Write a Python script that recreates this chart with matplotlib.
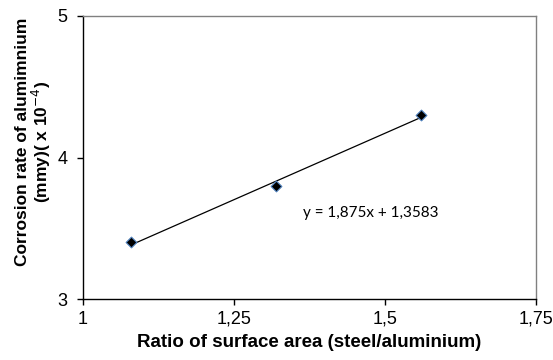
import matplotlib
matplotlib.use('Agg')
import matplotlib.pyplot as plt
import numpy as np
from matplotlib.ticker import FuncFormatter

# data
ratio = [1.08, 1.32, 1.56]
corrosion = [3.40, 3.80, 4.30]
x_ticks = [1, 1.25, 1.5, 1.75]
y_ticks = [3, 4, 5]

plt.rcParams['font.family'] = ['Liberation Sans', 'DejaVu Sans']

fig = plt.figure(figsize=(5.53, 3.6), dpi=100)
ax = fig.add_axes([0.150, 0.169, 0.819, 0.787])

# linear fit (trendline)
slope, intercept = np.polyfit(ratio, corrosion, 1)
xs = np.array([min(ratio), max(ratio)])
ax.plot(xs, slope * xs + intercept, color='black', linewidth=0.9, zorder=2)
ax.scatter(ratio, corrosion, marker='D', s=30, facecolor='black',
           edgecolor='#4f81bd', linewidth=0.8, zorder=3)

ax.text(1.364, 3.61, 'y = 1,875x + 1,3583', fontsize=11,
        family=['Lato', 'DejaVu Sans'], va='center')

ax.set_xlim(1, 1.75)
ax.set_ylim(3, 5)
ax.set_xticks(x_ticks)
ax.set_yticks(y_ticks)
ax.xaxis.set_major_formatter(FuncFormatter(lambda v, p: ('%g' % v).replace('.', ',')))
ax.yaxis.set_major_formatter(FuncFormatter(lambda v, p: '%g' % v))
ax.tick_params(direction='out', length=4, width=1, labelsize=13, colors='black')
ax.tick_params(axis='x', pad=4.5)
ax.tick_params(axis='y', pad=7)

for s in ['top', 'right']:
    ax.spines[s].set_color('#808080')
    ax.spines[s].set_linewidth(1)
for s in ['left', 'bottom']:
    ax.spines[s].set_color('black')
    ax.spines[s].set_linewidth(1)

ax.set_xlabel('Ratio of surface area (steel/aluminium)', fontsize=13.5,
              fontweight='bold', labelpad=4)
ax.set_ylabel('Corrosion rate of alumimnium\n(mmy)( x 10$^{-4}$)', fontsize=12.5,
              fontweight='bold', linespacing=1.0)
ax.yaxis.set_label_coords(-0.066, 0.555)

fig.savefig('out.png', dpi=100)
